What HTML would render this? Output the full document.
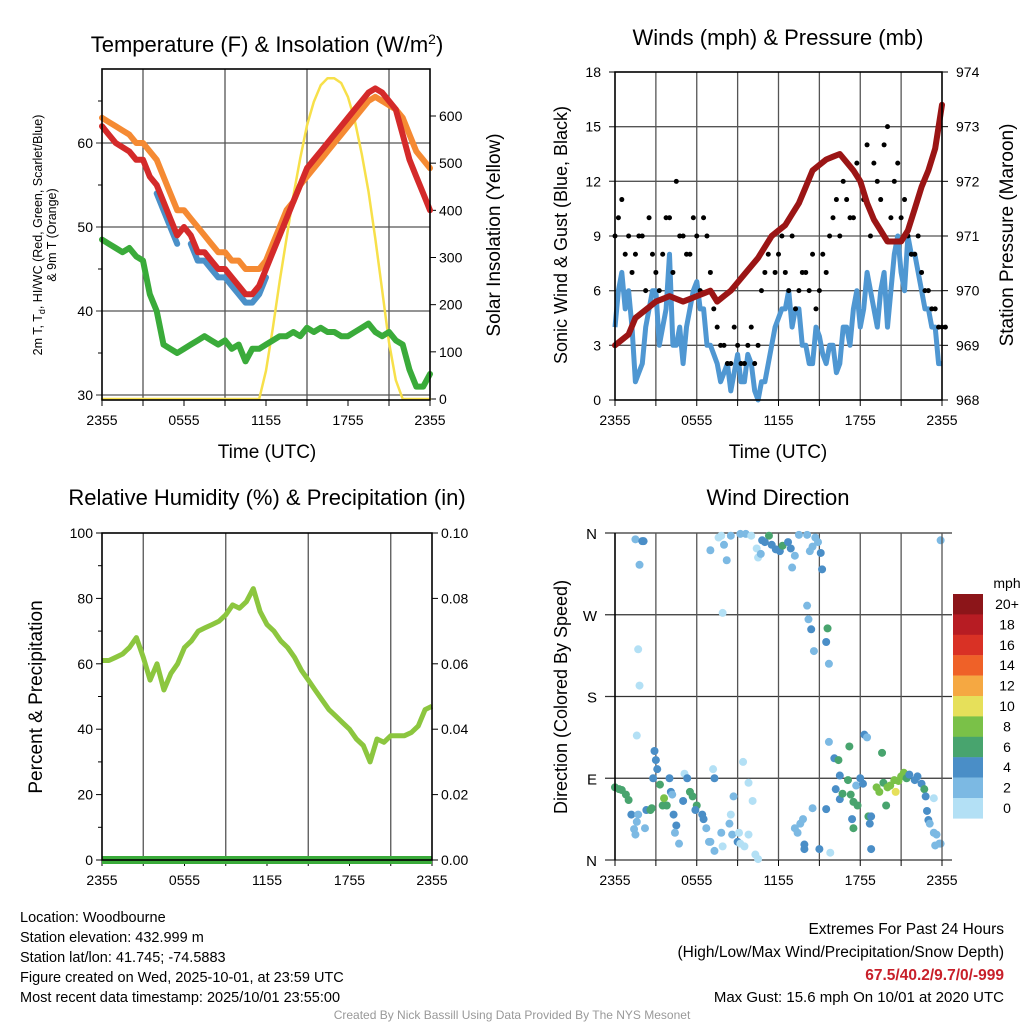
<!DOCTYPE html>
<html><head><meta charset="utf-8">
<style>
body{margin:0;background:#fff;}
svg{display:block;font-family:"Liberation Sans",Arial,sans-serif;}
</style></head>
<body>
<svg id="c" width="1024" height="1024" viewBox="0 0 1024 1024"></svg>
<script>
// ---------- DATA ----------
const tickLabels = ["2355","0555","1155","1755","2355"];
const tempRed = [62,61,60,59.5,59,58,58,56,55,53,51,49,50,49,47,47,46,45,45,44,43,42,42,43,45,47,49,51,53,55,57,58,59,60,61,62,63,64,65,66,66.5,66,65,64,61,58,56,54,52];
const temp9m = [63,62.5,62,61.5,61,60,60,59,58,56,54,52,52,51,50,49,48,47,47,46,46,45,45,45,46,48,50,52,53,55,56,57,58,59,60,61,62,63,64,65,65.5,65,64.5,64,63,61,59,58,57];
const windChill = [null,null,null,null,null,null,null,null,54,52,50,48,null,48,46,46,45,44,44,43,42,41,41,42,44,null,null,null,null,null,null,null,null,null,null,null,null,null,null,null,null,null,null,null,null,null,null,null,null];
const dewpt = [48.5,48,47.5,47,47.5,46.5,46,42,40,36,35.5,35,35.5,36,36.5,37,36.5,36,36.5,35.5,36,34,35.5,35.5,36,36.5,37,37,37.5,37,38,37.5,38,37.5,37.5,37,37,37.5,38,38.5,37.5,37,37.5,36.5,36,33,31,31,32.5];
const insol = [0,0,0,0,0,0,0,0,0,0,0,0,0,0,0,0,0,0,0,0,0,0,0,0,60,150,250,340,430,510,580,630,665,680,680,670,640,590,520,440,340,230,120,40,0,0,0,0,0];
const wind = [4,7,6,1,2,5,6,4,8,3,2,5,6.5,5,3,2,1.5,0.5,2.5,1,2,0,1,3,4.5,5,4,5,3,2,3.5,2,3,2,4,5,4,7,5,6,4,8,7,9,8,6,5,4,2];
const windB = [6,5,4,1.5,4,6,3,5,3,4,4,6,5,3,2.5,1,2,1.5,1,2.5,0.5,1,2,4,5,6,5,3,2,4,2.5,3,1.5,4,3,6,5,6,4,7,6,9,6,8,7,5,4,2,1];
const gustA = [9,11,9,8,9,10,7,8,10,12,9,8,9,10,7,4,3,2,3,2,4,3,7,9,8,7,9,6,7,8,6,7,10,9,11,10,12,14,13,11,15,12,10,9,8,7,6,5,4];
const gustB = [10,8,7,9,6,8,6,10,7,9,8,10,6,9,5,3,2,4,2,3,2,6,8,7,9,6,5,7,6,5,8,9,11,12,10,13,11,9,12,14,10,13,11,8,9,6,5,4,4];
const pressure = [969.0,969.1,969.2,969.5,969.6,969.7,969.8,969.85,969.9,969.85,969.8,969.85,969.9,969.95,970.0,969.8,969.9,970.0,970.15,970.3,970.45,970.6,970.8,971.0,971.1,971.2,971.4,971.6,971.9,972.2,972.3,972.4,972.45,972.5,972.35,972.2,972.0,971.6,971.3,971.1,970.9,970.9,970.9,971.1,971.5,971.9,972.2,972.6,973.4];
const rh = [61,61,62,63,65,68,62,55,60,52,57,60,65,67,70,71,72,73,75,78,77,79,83,76,72,70,67,65,62,58,55,52,49,46,44,42,40,37,35,30,37,36,38,38,38,39,41,46,47];
const precip = new Array(49).fill(0);
const dirHour = [0,0.3,0.5,0.8,1,1.2,1.4,1.5,1.6,1.7,1.5,2.0,2.1,1.8,1.7,1.8,1.6,2.2,2.3,2.6,2.7,2.9,3.0,3.1,2.8,3.3,3.5,3.6,3.8,4.0,4.1,4.3,4.5,4.4,4.7,4.2,5.1,5.3,5.0,5.5,5.7,6.0,5.9,6.4,6.5,6.7,7.0,7.3,7.2,7.3,6.9,7.8,7.9,8.5,8.4,8.7,8.6,9.0,9.1,9.2,9.5,9.8,10.3,10.5,9.4,9.8,10.1,7.0,7.6,7.8,8.0,8.2,7.9,8.5,9.2,9.6,10.0,10.4,10.5,10.7,11.0,10.8,11.3,11.5,11.8,12.1,12.3,12.7,12.9,13.2,13.0,13.5,14.1,14.3,14.5,14.7,14.9,15.1,15.2,14.1,14.2,14.4,14.6,15.6,15.5,15.7,15.0,15.5,15.8,13.6,13.8,13.2,13.4,13.9,13.9,14.5,15.7,16.1,16.4,16.2,16.5,16.7,16.5,17.1,17.3,17.5,17.4,17.7,17.8,17.5,17.2,18.0,18.3,18.5,18.6,18.7,18.8,18.2,18.8,19.2,19.4,19.7,19.6,20.0,19.9,20.2,20.5,20.6,20.8,21.0,21.2,21.4,21.6,22.0,22.2,22.5,22.7,22.8,22.9,23.0,23.1,23.4,23.6,23.8,23.9,23.5,23.4,23.9];
const dirDeg = [80,78,77,72,66,50,34,28,42,50,353,351,351,325,232,192,137,35,55,55,57,120,110,100,90,83,60,68,60,90,75,50,38,30,18,72,95,90,65,75,70,60,55,50,45,35,20,10,100,90,20,30,15,50,40,70,28,20,30,18,15,28,6,1,108,85,65,341,355,357,347,330,272,357,359,359,357,343,333,337,350,352,357,347,342,340,346,350,343,335,322,358,358,340,345,355,350,338,320,280,265,254,230,255,240,216,12,56,8,40,45,35,30,12,17,57,130,112,110,78,67,73,93,88,72,64,45,82,60,35,125,90,138,135,48,40,48,84,12,80,75,85,118,80,60,82,88,75,87,92,96,90,94,88,92,84,78,70,54,44,40,30,28,18,18,16,68,352];
const dirSpeed = [6,6,6,6,6,4,2,2,2,2,2,4,4,2,1,1,1,2,4,6,6,4,4,4,4,6,6,8,6,4,4,4,4,2,2,2,1,4,4,6,6,6,4,4,4,2,2,2,1,4,2,2,1,1,2,2,2,4,1,1,1,1,1,1,1,1,1,2,1,1,2,2,1,2,2,2,1,1,1,2,4,4,6,4,4,4,6,4,4,2,2,2,2,2,2,2,2,4,4,2,2,4,2,6,4,2,4,4,1,2,2,2,2,4,4,2,2,4,6,4,4,6,4,6,6,6,4,2,6,6,6,4,4,2,6,4,4,4,4,8,8,6,6,8,6,8,8,10,8,8,8,6,4,4,4,4,6,4,4,4,2,2,2,2,2,2,1,2];
const cbLabels = ["20+","18","16","14","12","10","8","6","4","2","0"];
const cbColors = ["#8c1519","#b71c23","#d93125","#ef6128","#f5a842","#e6e05a","#7ac148","#48a46e","#4a8ec7","#7cb9e3","#b3e0f5"];

// ---------- HELPERS ----------
const svg = document.getElementById('c');
const NS = "http://www.w3.org/2000/svg";
function el(tag, attrs, parent){ const e=document.createElementNS(NS,tag); for(const k in attrs) e.setAttribute(k,attrs[k]); (parent||svg).appendChild(e); return e; }
function txt(x,y,s,size,anchor,parent,extra){ const t=el('text',Object.assign({x:x,y:y,'font-size':size,'text-anchor':anchor||'middle',fill:'#000'},extra||{}),parent); t.textContent=s; return t; }
function lin(a,b,c,d){ return v=>c+(v-a)*(d-c)/(b-a); }
function pathFrom(xs,ys){ let d='',pen=false; for(let i=0;i<xs.length;i++){ if(ys[i]==null){pen=false;continue;} d+=(pen?'L':'M')+xs[i].toFixed(1)+' '+ys[i].toFixed(1); pen=true;} return d; }

function timeAxis(g,x0,x1,yb,allGrid,yt){
  const xt=lin(0,24,x0,x1);
  for(let h=0;h<=24;h+=3){
    const x=xt(h);
    const major=h%6===0;
    if((allGrid||!major) && h>0 && h<24){ const l=el('line',{x1:x,y1:yt,x2:x,y2:yb,stroke:'#555','stroke-width':1.3},g);   }
    el('line',{x1:x,y1:yb,x2:x,y2:yb+6,stroke:'#000','stroke-width':1},g);
  }
  tickLabels.forEach((s,i)=>{ const t=txt(xt(i*6),yb+25,s,14,'middle',g);   });
  return xt;
}
function frame(g,x0,y0,x1,y1){ const r=el('rect',{x:x0,y:y0,width:x1-x0,height:y1-y0,fill:'none',stroke:'#000','stroke-width':1.6},g);   }

// ---------- PANEL 1 ----------
(function(){
  const g=el('g',{});  
  const x0=102,x1=430,y0=69,y1=400;
  const yT=lin(30,40,395,311), yS=lin(0,600,399,116);
  [30,40,50,60].forEach(v=>{ el('line',{x1:x0-6,y1:yT(v),x2:x1,y2:yT(v),stroke:'#555','stroke-width':1.3},g); const t=txt(x0-9,yT(v)+5,String(v),14,'end',g);   });
  [35,45,55,65].forEach(v=>el('line',{x1:x0-4,y1:yT(v),x2:x0,y2:yT(v),stroke:'#000'},g));
  [0,100,200,300,400,500,600].forEach(v=>{ el('line',{x1:x1,y1:yS(v),x2:x1+6,y2:yS(v),stroke:'#000'},g); const t=txt(x1+9,yS(v)+5,String(v),14,'start',g);   });
  const xt=timeAxis(g,x0,x1,y1,false,y0);
  const xs=tempRed.map((_,i)=>xt(i/2));
  const lines=[[insol,yS,'#f7e04a',2.5,'insolation-line'],[dewpt,yT,'#3aab3a',6,'dewpoint-line'],[temp9m,yT,'#f58a33',6,'temp-9m-line'],[windChill,yT,'#4a90c8',6,'windchill-line'],[tempRed,yT,'#d42a2a',6,'temp-2m-line']];
  lines.forEach(([arr,sc,col,w,nm])=>{ const p=el('path',{d:pathFrom(xs,arr.map(v=>v==null?null:sc(v))),fill:'none',stroke:col,'stroke-width':w,'stroke-linejoin':'round','stroke-linecap':'round'},g);   });
  frame(g,x0,y0,x1,y1);
  const t1=el('text',{x:267,y:52,'font-size':22,'text-anchor':'middle'},g); t1.innerHTML='Temperature (F) &amp; Insolation (W/m<tspan dy="-8" font-size="14">2</tspan><tspan dy="8">)</tspan>';  
  const yl=el('text',{transform:'translate(42,235) rotate(-90)','font-size':12.5,'text-anchor':'middle'},g); yl.innerHTML='2m T, T<tspan dy="3" font-size="9">d</tspan><tspan dy="-3">, HI/WC (Red, Green, Scarlet/Blue)</tspan>';  
  const yl2=txt(0,0,'& 9m T (Orange)',12.5,'middle',g,{transform:'translate(56,235) rotate(-90)'});  
  const yr=txt(0,0,'Solar Insolation (Yellow)',19,'middle',g,{transform:'translate(500,235) rotate(-90)'});  
  const xl=txt(267,458,'Time (UTC)',19,'middle',g);  
})();

// ---------- PANEL 2 ----------
(function(){
  const g=el('g',{});  
  const x0=615,x1=942,y0=72,y1=400;
  const yW=lin(0,18,400,72), yP=lin(968,974,400,72);
  [0,3,6,9,12,15,18].forEach(v=>{ if(v>0&&v<18) el('line',{x1:x0-6,y1:yW(v),x2:x1,y2:yW(v),stroke:'#555','stroke-width':1.3},g); else el('line',{x1:x0-6,y1:yW(v),x2:x0,y2:yW(v),stroke:'#000'},g); const t=txt(x0-14,yW(v)+5,String(v),14,'end',g);   });
  [968,969,970,971,972,973,974].forEach(v=>{ el('line',{x1:x1,y1:yP(v),x2:x1+6,y2:yP(v),stroke:'#000'},g); const t=txt(x1+14,yP(v)+5,String(v),14,'start',g);   });
  const xt=timeAxis(g,x0,x1,y1,true,y0);
  const xs=wind.map((_,i)=>xt(i/2));
  const wx=[],wy=[];
  wind.forEach((v,i)=>{ wx.push(xt(i/2)); wy.push(yW(v)); if(i<wind.length-1){ wx.push(xt(i/2+0.25)); wy.push(yW(windB[i])); } });
  const wp=el('path',{d:pathFrom(wx,wy),fill:'none',stroke:'#4f97d2','stroke-width':5,'stroke-linejoin':'round'},g);  
  gustA.forEach((v,i)=>{ const c=el('circle',{cx:xt(i/2),cy:yW(v),r:2.5,fill:'#000'},g);   });
  gustB.forEach((v,i)=>{ const c=el('circle',{cx:xt(i/2+0.25),cy:yW(v),r:2.5,fill:'#000'},g);   });
  const pp=el('path',{d:pathFrom(xs,pressure.map(yP)),fill:'none',stroke:'#9b1515','stroke-width':6,'stroke-linejoin':'round','stroke-linecap':'round'},g);  
  frame(g,x0,y0,x1,y1);
  const t=txt(778,45,'Winds (mph) & Pressure (mb)',22,'middle',g);  
  const yl=txt(0,0,'Sonic Wind & Gust (Blue, Black)',18,'middle',g,{transform:'translate(567,235) rotate(-90)'});  
  const yr=txt(0,0,'Station Pressure (Maroon)',19,'middle',g,{transform:'translate(1013,235) rotate(-90)'});  
  const xl=txt(778,458,'Time (UTC)',19,'middle',g);  
})();

// ---------- PANEL 3 ----------
(function(){
  const g=el('g',{});  
  const x0=102,x1=432,y0=533,y1=860;
  const yR=lin(0,100,860,533), yPr=lin(0,0.1,860,533);
  [0,20,40,60,80,100].forEach(v=>{ el('line',{x1:x0-6,y1:yR(v),x2:x0,y2:yR(v),stroke:'#000'},g); const t=txt(x0-9,yR(v)+5,String(v),14,'end',g);   });
  [10,30,50,70,90].forEach(v=>el('line',{x1:x0-4,y1:yR(v),x2:x0,y2:yR(v),stroke:'#000'},g));
  ["0.00","0.02","0.04","0.06","0.08","0.10"].forEach(s=>{ const v=parseFloat(s); el('line',{x1:x1,y1:yPr(v),x2:x1+6,y2:yPr(v),stroke:'#000'},g); const t=txt(x1+9,yPr(v)+5,s,14,'start',g);   });
  const xt=timeAxis(g,x0,x1,y1,false,y0);
  const xs=rh.map((_,i)=>xt(i/2));
  const rp=el('path',{d:pathFrom(xs,rh.map(yR)),fill:'none',stroke:'#8cc63f','stroke-width':5,'stroke-linejoin':'round'},g);  
  const pr=el('path',{d:pathFrom(xs,precip.map(yPr)),fill:'none',stroke:'#3aab3a','stroke-width':8},g);  
  frame(g,x0,y0,x1,y1);
  const t=txt(267,505,'Relative Humidity (%) & Precipitation (in)',22,'middle',g);  
  const yl=txt(0,0,'Percent & Precipitation',19,'middle',g,{transform:'translate(42,697) rotate(-90)'});  
})();

// ---------- PANEL 4 ----------
(function(){
  const g=el('g',{});  
  const x0=615,x1=942,y0=533,y1=860;
  const yD=lin(0,360,860,533);
  const dl=["N","E","S","W","N"];
  [0,90,180,270,360].forEach((v,i)=>{ el('line',{x1:x0-10,y1:yD(v),x2:x1+10,y2:yD(v),stroke:'#333','stroke-width':1.3},g); const t=txt(x0-18,yD(v)+6,dl[i],15,'end',g);   });
  const xt=timeAxis(g,x0,x1,y1,true,y0);
  function bin(s){ return Math.min(10,Math.floor(s/2)); }
  dirHour.forEach((h,i)=>{ const c=el('circle',{cx:xt(h),cy:yD(dirDeg[i]),r:4,fill:cbColors[10-bin(dirSpeed[i])]},g);   });
  el('line',{x1:x0,y1:y0,x2:x0,y2:y1,stroke:'#000','stroke-width':1.6},g);
  el('line',{x1:x1,y1:y0,x2:x1,y2:y1,stroke:'#555','stroke-width':1.3},g);
  const t=txt(778,505,'Wind Direction',22,'middle',g);  
  const yl=txt(0,0,'Direction (Colored By Speed)',18,'middle',g,{transform:'translate(567,697) rotate(-90)'});  
  const lg=el('g',{},g);  
  txt(1007,588,'mph',14,'middle',lg);
  cbColors.forEach((c,i)=>{ const r=el('rect',{x:953,y:594+i*20.4,width:30,height:20.6,fill:c},lg);   const t=txt(1007,609+i*20.4,cbLabels[i],14,'middle',lg);   });
})();

// ---------- FOOTER ----------
(function(){
  const g=el('g',{});  
  ["Location: Woodbourne","Station elevation: 432.999 m","Station lat/lon: 41.745; -74.5883","Figure created on Wed, 2025-10-01, at 23:59 UTC","Most recent data timestamp: 2025/10/01 23:55:00"].forEach((s,i)=>txt(20,922+i*20,s,14.5,'start',g));
  const r=el('g',{});  
  txt(1004,934,'Extremes For Past 24 Hours',15.5,'end',r);
  txt(1004,957,'(High/Low/Max Wind/Precipitation/Snow Depth)',15.5,'end',r);
  txt(1004,980,'67.5/40.2/9.7/0/-999',15.5,'end',r,{fill:'#c8202a','font-weight':'bold'});
  txt(1004,1002,'Max Gust: 15.6 mph On 10/01 at 2020 UTC',15,'end',r);
  const c=txt(512,1019,'Created By Nick Bassill Using Data Provided By The NYS Mesonet',12,'middle'); c.setAttribute('fill','#999');  
})();
</script>
</body></html>
